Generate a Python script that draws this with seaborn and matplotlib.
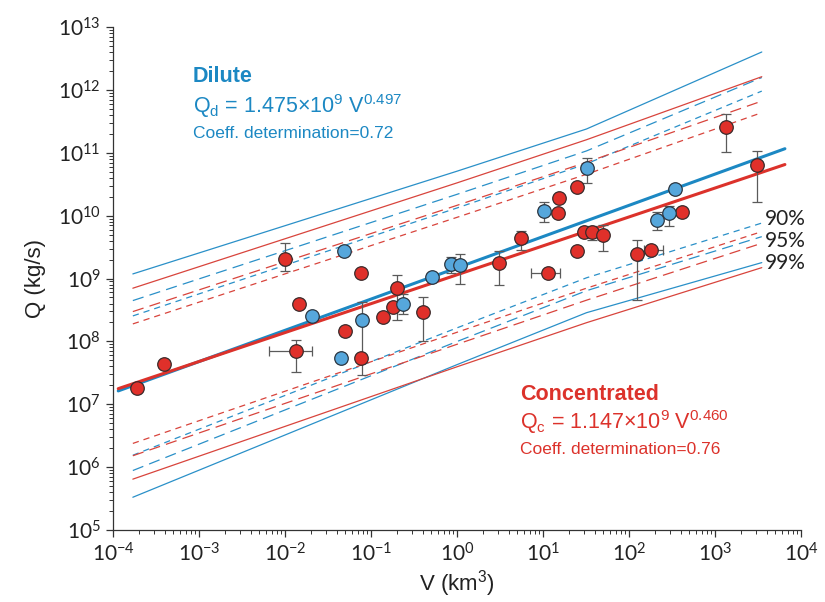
import numpy as np
import pandas as pd
import matplotlib
matplotlib.use("Agg")
import matplotlib.pyplot as plt
import seaborn as sns

# ---- data ----
# dilute (blue) points
dil_v = [0.0206, 0.0485, 0.0448, 0.0785, 0.236, 0.512, 0.851, 1.08, 10.3, 32.5, 212, 292, 343]
dil_q = [2.54e8, 2.75e9, 5.47e7, 2.2e8, 3.95e8, 1.06e9, 1.71e9, 1.64e9, 1.19e10, 5.73e10, 8.55e9, 1.1e10, 2.66e10]
dil_q_lo = [np.nan, np.nan, np.nan, 2.93e7, 2.74e8, np.nan, 1.23e9, 8.2e8, 7.9e9, 3.3e10, 6.0e9, 6.86e9, np.nan]
dil_q_hi = [np.nan, np.nan, np.nan, 4.25e8, 5.7e8, np.nan, 2.2e9, 2.46e9, 1.65e10, 8.3e10, 1.15e10, 1.43e10, np.nan]

# concentrated (red) points
con_v = [1.9e-4, 3.9e-4, 0.01, 0.0146, 0.0134, 0.0499, 0.0766, 0.0766, 0.138, 0.18, 0.2, 0.4,
         3.08, 5.55, 11.4, 14.9, 15.3, 24.8, 24.8, 30, 37.2, 49.9, 124, 180, 413, 1343, 3076]
con_q = [1.82e7, 4.4e7, 2.05e9, 3.95e8, 7.06e7, 1.47e8, 1.23e9, 5.47e7, 2.45e8, 3.53e8, 7.1e8, 2.94e8,
         1.77e9, 4.42e9, 1.23e9, 1.1e10, 1.91e10, 2.86e10, 2.75e9, 5.5e9, 5.5e9, 4.93e9, 2.46e9, 2.85e9,
         1.15e10, 2.57e11, 6.4e10]
con_q_lo = [1.6e7, np.nan, 1.32e9, np.nan, 3.27e7, np.nan, np.nan, np.nan, np.nan, np.nan, 2.2e8, 1.02e8,
            7.9e8, 2.85e9, np.nan, np.nan, np.nan, np.nan, np.nan, np.nan, 4.1e9, 2.75e9, 4.57e8, np.nan,
            np.nan, 1.03e11, 1.65e10]
con_q_hi = [2.0e7, np.nan, 3.7e9, np.nan, 1.06e8, np.nan, np.nan, np.nan, np.nan, np.nan, 1.14e9, 5.1e8,
            2.75e9, 5.7e9, np.nan, np.nan, np.nan, np.nan, np.nan, np.nan, 6.9e9, 7.1e9, 4.1e9, np.nan,
            np.nan, 4.14e11, 1.07e11]
con_v_lo = [np.nan] * 4 + [0.0065] + [np.nan] * 9 + [7.2] + [np.nan] * 8 + [150] + [np.nan] * 3
con_v_hi = [np.nan] * 4 + [0.0206] + [np.nan] * 9 + [15.8] + [np.nan] * 8 + [248] + [np.nan] * 3

# regression lines (end points)
fit_v = [1.15e-4, 6.5e3]
fit_dil = [1.63e7, 1.16e11]
fit_con = [1.77e7, 6.5e10]

# prediction bands, log10(Q) at band_v
band_v = [1.7e-4, 1.0, 32, 3500]
dil_bands = {
    "99": ([9.073, 10.707, 11.378, 12.603], [5.521, 7.630, 8.456, 9.253]),
    "95": ([8.649, 10.339, 11.029, 12.197], [5.946, 7.998, 8.806, 9.666]),
    "90": ([8.405, 10.122, 10.824, 11.981], [6.189, 8.215, 9.011, 9.882]),
}
con_bands = {
    "99": ([8.846, 10.521, 11.207, 12.210], [5.809, 7.596, 8.297, 9.173]),
    "95": ([8.474, 10.164, 10.849, 11.822], [6.181, 7.954, 8.655, 9.561]),
    "90": ([8.278, 9.973, 10.658, 11.638], [6.377, 8.145, 8.846, 9.746]),
}
level_labels = ["90%", "95%", "99%"]
level_label_q = [8.9e9, 3.96e9, 1.77e9]

blue = "#1c88c3"
blue_fill = "#56a7dc"
red = "#dc322b"
red_fill = "#e0302a"
styles = {"99": "-", "95": (0, (9, 5)), "90": (0, (5, 4))}

sns.set_style("ticks")
plt.rcParams["font.family"] = ["Liberation Sans", "DejaVu Sans"]
plt.rcParams["axes.unicode_minus"] = False

fig = plt.figure(figsize=(8.25, 6.02), dpi=100)
ax = fig.add_axes([0.137, 0.1196, 0.8339, 0.8355])
ax.set_xscale("log")
ax.set_yscale("log")

# bands
for bands, col in [(dil_bands, "#2a90c8"), (con_bands, "#d8443c")]:
    for lev, (up, lo) in bands.items():
        for vals in (up, lo):
            ax.plot(band_v, 10 ** np.array(vals), color=col, lw=0.9,
                    linestyle=styles[lev], zorder=1)

# regression lines
fits = pd.DataFrame({"V": fit_v * 2, "Q": fit_dil + fit_con,
                     "type": ["Dilute"] * 2 + ["Concentrated"] * 2})
sns.lineplot(data=fits, x="V", y="Q", hue="type", palette={"Dilute": blue, "Concentrated": red},
             lw=2.2, ax=ax, legend=False, zorder=2)


def bars(v, q, lo, hi, axis):
    v = np.array(v, float); q = np.array(q, float)
    lo = np.array(lo, float); hi = np.array(hi, float)
    m = ~np.isnan(lo)
    if axis == "y":
        err = [q[m] - lo[m], hi[m] - q[m]]
        ax.errorbar(v[m], q[m], yerr=err, fmt="none", ecolor="#5a5a5a",
                    elinewidth=0.9, capsize=3.5, capthick=0.9, zorder=3)
    else:
        err = [v[m] - lo[m], hi[m] - v[m]]
        ax.errorbar(v[m], q[m], xerr=err, fmt="none", ecolor="#5a5a5a",
                    elinewidth=0.9, capsize=3.5, capthick=0.9, zorder=3)


bars(dil_v, dil_q, dil_q_lo, dil_q_hi, "y")
bars(con_v, con_q, con_q_lo, con_q_hi, "y")
bars(con_v, con_q, con_v_lo, con_v_hi, "x")

sns.scatterplot(x=con_v, y=con_q, color=red_fill, edgecolor="#3a2a2a", linewidth=0.9,
                s=95, ax=ax, zorder=4)
sns.scatterplot(x=dil_v, y=dil_q, color=blue_fill, edgecolor="#2a3540", linewidth=0.9,
                s=95, ax=ax, zorder=4)

ax.set_xlim(1e-4, 1e4)
ax.set_ylim(1e5, 1e13)
ax.xaxis.set_major_locator(matplotlib.ticker.LogLocator(base=10, numticks=20))
ax.yaxis.set_major_locator(matplotlib.ticker.LogLocator(base=10, numticks=20))
ax.xaxis.set_minor_locator(matplotlib.ticker.LogLocator(base=10, subs=np.arange(2, 10), numticks=100))
ax.yaxis.set_minor_locator(matplotlib.ticker.LogLocator(base=10, subs=np.arange(2, 10), numticks=100))
ax.xaxis.set_minor_formatter(matplotlib.ticker.NullFormatter())
ax.yaxis.set_minor_formatter(matplotlib.ticker.NullFormatter())
ax.tick_params(which="major", length=5, width=0.9, color="#333333", labelsize=15, pad=4)
ax.tick_params(which="minor", length=3, width=0.7, color="#333333")
for lab in ax.get_xticklabels() + ax.get_yticklabels():
    lab.set_fontfamily("Lato")
    lab.set_color("#222222")
sns.despine(ax=ax)
for s in ["left", "bottom"]:
    ax.spines[s].set_linewidth(0.9)
    ax.spines[s].set_color("#333333")

ax.set_xlabel("V (km$^{\\mathdefault{3}}$)", fontsize=16, color="#222222", labelpad=2)
ax.set_ylabel("Q (kg/s)", fontsize=16, color="#222222", labelpad=8)

for lab, q in zip(level_labels, level_label_q):
    ax.text(3.8e3, q, lab, fontsize=15, color="#222222", va="center", ha="left",
            fontfamily="Lato", clip_on=False)

W, H = 825, 602
fig.text(193 / W, 1 - 77 / H, "Dilute", color=blue, fontsize=15.5, fontweight="bold", va="center")
fig.text(193 / W, 1 - 106 / H, "Q$_{\\mathdefault{d}}$ = 1.475×10$^{\\mathdefault{9}}$ V$^{\\mathdefault{0.497}}$",
         color=blue, fontsize=15.5, va="center")
fig.text(193 / W, 1 - 134 / H, "Coeff. determination=0.72", color=blue, fontsize=12.5, va="center")
fig.text(520 / W, 1 - 394 / H, "Concentrated", color=red, fontsize=15.5, fontweight="bold", va="center")
fig.text(520 / W, 1 - 422 / H, "Q$_{\\mathdefault{c}}$ = 1.147×10$^{\\mathdefault{9}}$ V$^{\\mathdefault{0.460}}$",
         color=red, fontsize=15.5, va="center")
fig.text(520 / W, 1 - 449 / H, "Coeff. determination=0.76", color=red, fontsize=12.5, va="center")

fig.savefig("out.png", dpi=100)
